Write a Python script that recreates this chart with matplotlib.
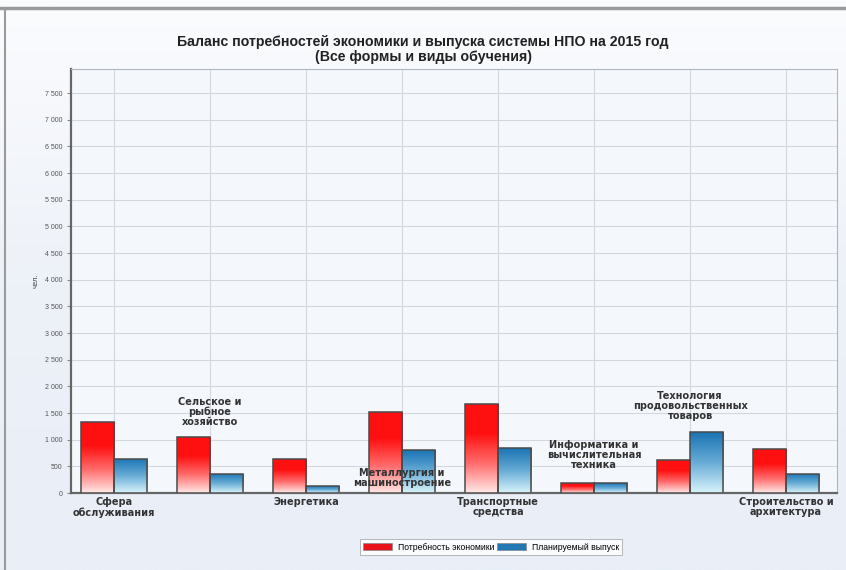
import numpy as np
import matplotlib
matplotlib.use("Agg")
import matplotlib.pyplot as plt
from matplotlib.colors import LinearSegmentedColormap
from matplotlib.lines import Line2D
from matplotlib.patches import Patch

plt.rcParams['font.family'] = ['Liberation Sans', 'DejaVu Sans']

categories = [
    "Сфера\nобслуживания",
    "Сельское и\nрыбное\nхозяйство",
    "Энергетика",
    "Металлургия и\nмашиностроение",
    "Транспортные\nсредства",
    "Информатика и\nвычислительная\nтехника",
    "Технология\nпродовольственных\nтоваров",
    "Строительство и\nархитектура",
]
demand = [1330, 1050, 640, 1520, 1670, 190, 620, 820]
supply = [640, 360, 130, 800, 840, 180, 1140, 360]
series_names = ["Потребность экономики", "Планируемый выпуск"]
yticks = list(range(0, 8000, 500))
ytick_labels = [f"{v:,}".replace(",", " ") for v in yticks]

# label placement: None -> below axis, number -> centre height (data units)
label_y = [None, 1520, None, 280, None, 710, 1630, None]

fig = plt.figure(figsize=(8.46, 5.70), dpi=100)
fig.patch.set_facecolor("#edf1f8")

bg = fig.add_axes([0, 0, 1, 1], zorder=-10)
grad = np.linspace(0, 1, 256).reshape(-1, 1)
bg_cmap = LinearSegmentedColormap.from_list("bg", ["#e9eef7", "#edf1f8", "#fbfcfe"])
bg.imshow(grad, aspect="auto", cmap=bg_cmap, extent=[0, 1, 0, 1], origin="lower")
bg.set_axis_off()

ax = fig.add_axes([71 / 846, 1 - 493 / 570, (837 - 71) / 846, (493 - 69) / 570])
ax.set_facecolor("#f4f7fc")

x = np.arange(len(categories))
w = 0.345
bars_d = ax.bar(x - w / 2, demand, width=w, facecolor="none", edgecolor="#4a4a4a", linewidth=1.1, zorder=4)
bars_s = ax.bar(x + w / 2, supply, width=w, facecolor="none", edgecolor="#4a4a4a", linewidth=1.1, zorder=4)

red_cmap = LinearSegmentedColormap.from_list("r", ["#ffe8e6", "#ff6a6a", "#ff1010", "#ff1010"])
blue_cmap = LinearSegmentedColormap.from_list("b", ["#d8f3fb", "#68acd6", "#1a74b4"])
g = np.linspace(0, 1, 128).reshape(-1, 1)
for bars, cm in ((bars_d, red_cmap), (bars_s, blue_cmap)):
    for b in bars:
        x0, y0 = b.get_x(), b.get_y()
        bw, bh = b.get_width(), b.get_height()
        im = ax.imshow(g, aspect="auto", cmap=cm, origin="lower",
                       extent=[x0, x0 + bw, y0, y0 + bh], zorder=3)
        im.set_clip_path(b)

ax.set_xlim(-0.448, 7.53)
ax.set_ylim(0, 7950)
ax.set_yticks(yticks)
ax.set_yticklabels(ytick_labels, fontsize=5, color="#555555")
ax.set_xticks(x)
ax.set_xticklabels([])
ax.tick_params(axis="x", length=0)
ax.tick_params(axis="y", length=3, color="#888888", pad=3)
ax.grid(True, color="#d2d7e0", linewidth=0.8, zorder=0)
ax.set_axisbelow(True)

for s in ("left", "bottom"):
    ax.spines[s].set_color("#666666")
    ax.spines[s].set_linewidth(1.6)
for s in ("top", "right"):
    ax.spines[s].set_color("#b0b4bc")
    ax.spines[s].set_linewidth(0.8)

ax.set_ylabel("чел.", fontsize=5.5, color="#444444", labelpad=4)

lab_font = dict(family=["DejaVu Sans"], fontsize=7, fontweight="bold", color="#333333",
                linespacing=1.0, zorder=6)
for i, (lab, ly) in enumerate(zip(categories, label_y)):
    if ly is None:
        ax.annotate(lab, xy=(i, 0), xycoords="data", xytext=(0, -3), textcoords="offset points",
                    ha="center", va="top", annotation_clip=False, **lab_font)
    else:
        ax.text(i, ly, lab, ha="center", va="center", **lab_font)

fig.text(0.5, 1 - 42 / 570, "Баланс потребностей экономики и выпуска системы НПО на 2015 год",
         ha="center", va="center", fontsize=10.2, fontweight="bold", color="#222222")
fig.text(0.5, 1 - 57 / 570, "(Все формы и виды обучения)",
         ha="center", va="center", fontsize=10.2, fontweight="bold", color="#222222")

handles = [Patch(facecolor="#e8141c", edgecolor="#888888", linewidth=0.5),
           Patch(facecolor="#1f78b4", edgecolor="#888888", linewidth=0.5)]
leg = fig.legend(handles, series_names, loc="center", bbox_to_anchor=(491 / 846, 1 - 547 / 570),
                 ncol=2, fontsize=6.2, frameon=True, fancybox=False, handlelength=3.4,
                 handleheight=1.0, handletextpad=0.7, columnspacing=0.3, borderpad=0.35)
leg.get_frame().set_edgecolor("#999999")
leg.get_frame().set_linewidth(0.6)
leg.get_frame().set_facecolor("#ffffff")

fig.add_artist(Line2D([0, 1], [1 - 8 / 570, 1 - 8 / 570], color="#9a9a9a", linewidth=2.5))
fig.add_artist(Line2D([5 / 846, 5 / 846], [0, 1 - 8 / 570], color="#9a9a9a", linewidth=1.5))

fig.savefig("out.png", dpi=100, facecolor=fig.get_facecolor())
